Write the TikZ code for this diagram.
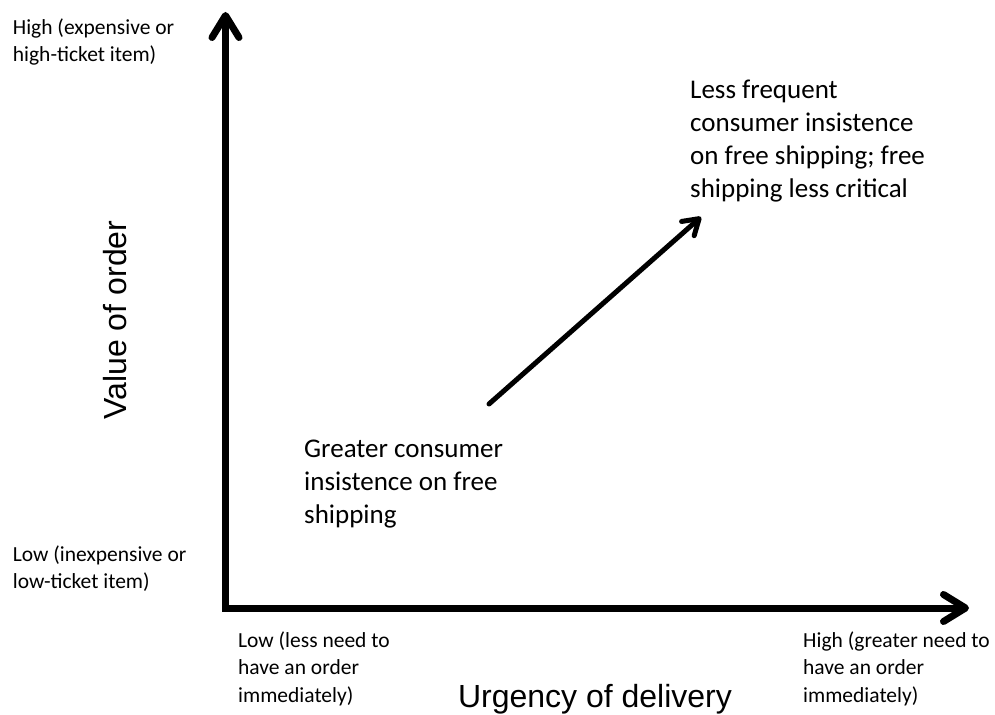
\documentclass[tikz,border=0pt]{standalone}
\usepackage{fontspec}
\setmainfont{Carlito}
\newfontfamily\axisfont{Liberation Sans}
\usetikzlibrary{arrows.meta}

\tikzset{
  smalltext/.style={font=\fontsize{21.5bp}{27.5bp}\selectfont, align=left,
    anchor=north west, inner sep=0pt},
  bigtext/.style={font=\fontsize{27bp}{33bp}\selectfont, align=left,
    anchor=north west, inner sep=0pt},
  axistitle/.style={font=\axisfont\fontsize{32bp}{38bp}\selectfont,
    anchor=base, inner sep=0pt},
  axisline/.style={line width=7bp, -{Straight Barb[length=22bp,width=27bp,round]}},
  trendline/.style={line width=5bp, line cap=round,
    -{Straight Barb[length=15bp,width=19bp,round]}}
}

\begin{document}
\begin{tikzpicture}
  \begin{scope}[x=1bp,y=-1bp]
    \useasboundingbox (0,0) rectangle (995,715);

    % axes
    \coordinate (origin) at (225.5,608);
    \coordinate (ytip) at (225.5,12);
    \coordinate (xtip) at (969,608);
    \draw[axisline] ([yshift=-3.5bp]origin) -- (ytip);
    \draw[axisline] ([xshift=-3.5bp]origin) -- (xtip);

    \node[axistitle, rotate=90] (valtitle) at (126,320) {Value of order};
    \node[axistitle] (urgtitle) at (595,707) {Urgency of delivery};

    % value ends
    \node[smalltext] (hivalue) at (12.7,14.75)
      {\strut High (expensive or\\high-ticket item)};
    \node[smalltext] (lovalue) at (12.7,541.75)
      {\strut Low (inexpensive or\\low-ticket item)};

    % urgency ends
    \node[smalltext] (lourgency) at (238,627.75)
      {\strut Low (less need to\\have an order\\immediately)};
    \node[smalltext] (hiurgency) at (803,627.75)
      {\strut High (greater need to\\have an order\\immediately)};

    % insistence
    \node[bigtext] (greater) at (304,433.9)
      {\strut Greater consumer\\insistence on free\\shipping};
    \node[bigtext] (lessfreq) at (690,74.9)
      {\strut Less frequent\\consumer insistence\\on free shipping; free\\shipping less critical};

    \coordinate (trendfrom) at (489,404);
    \coordinate (trendto) at (701,217);
    \draw[trendline] (trendfrom) -- (trendto);
  \end{scope}
\end{tikzpicture}
\end{document}
